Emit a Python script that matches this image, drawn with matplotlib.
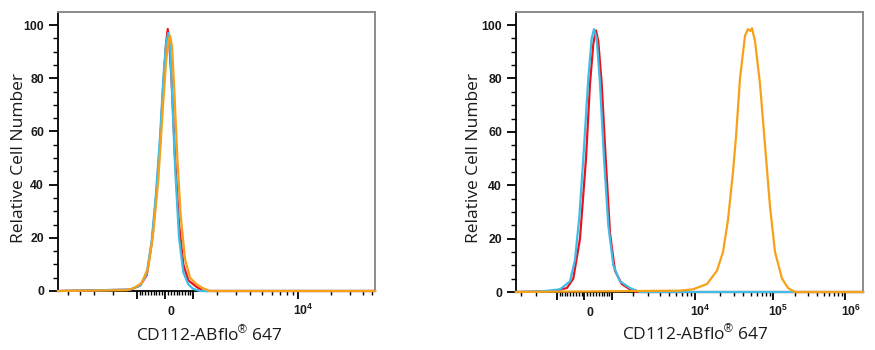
import numpy as np
import matplotlib
matplotlib.use("Agg")
import matplotlib.pyplot as plt
from matplotlib.ticker import FixedLocator, FixedFormatter
from matplotlib.transforms import ScaledTranslation

plt.rcParams["mathtext.fontset"] = "custom"
plt.rcParams["mathtext.rm"] = "Liberation Sans"
plt.rcParams["mathtext.bf"] = "Liberation Sans:bold"
plt.rcParams["mathtext.it"] = "Liberation Sans:italic"

RED = "#e8141b"
CYAN = "#3dbde8"
ORANGE = "#f7a11a"

# left panel (all three populations sit around zero)
LEFT_RED_X = [-6038, -1272, -888, -643, -464, -313, -174, -59, 35, 94, 149, 233,
              348, 489, 643, 825, 1142, 1404, 53300]
LEFT_RED_Y = [0, 0.5, 2, 6, 18, 35, 55, 78, 93, 98.5, 93, 78, 50, 25, 10, 4, 1.5, 0, 0]

LEFT_CYAN_X = [-6038, -1272, -888, -643, -464, -313, -174, -59, 35, 114, 174, 243,
               348, 489, 643, 825, 1001, 1272, 53300]
LEFT_CYAN_Y = [0, 0.5, 2, 6.5, 19, 37, 58, 80, 93, 97, 92, 75, 47, 20, 7, 2.5, 0.8, 0, 0]

LEFT_ORANGE_X = [-6038, -1404, -1142, -825, -585, -408, -233, -80, 35, 114, 174, 243,
                 324, 429, 550, 704, 888, 1142, 1404, 1690, 53300]
LEFT_ORANGE_Y = [0, 0.3, 1, 3, 9, 22, 42, 68, 86, 94, 96, 92, 75, 50, 28, 12, 5, 2.5,
                 1, 0, 0]

# right panel (orange population shifted to ~5x10^4)
RIGHT_CYAN_X = [-3370, -1607, -882, -508, -330, -180, -41, 131, 249, 330, 425, 544,
                691, 855, 1055, 1341, 1827, 2405, 1.76e6]
RIGHT_CYAN_Y = [0, 0.3, 1, 4, 12, 28, 50, 80, 95, 98.5, 95, 78, 50, 25, 10, 4, 1.5, 0, 0]

RIGHT_RED_X = [-3370, -1169, -617, -390, -155, 52, 190, 305, 400, 482, 606, 755,
               922, 1125, 1419, 1827, 2200, 1.76e6]
RIGHT_RED_Y = [0, 0.3, 1.5, 5, 20, 50, 78, 93, 98, 94, 78, 50, 22, 8, 3, 1, 0, 0]

RIGHT_ORANGE_X = [-3370, 6721, 9479, 13930, 18484, 21994, 25440, 29480, 32224, 36331,
                  42240, 46261, 49500, 52261, 57294, 66789, 78022, 91104, 106517,
                  132663, 160329, 199851, 1.76e6]
RIGHT_ORANGE_Y = [0, 0.5, 1, 3, 8, 15, 27, 45, 58, 80, 96, 98.5, 97.8, 98.8, 94, 78,
                  55, 32, 15, 5, 1.5, 0, 0]

Y_MAJOR = [0, 20, 40, 60, 80, 100]
Y_MINOR = [v for v in range(5, 100, 5) if v % 20]

NEAR_ZERO = [v for v in range(-900, 1000, 100) if v != 0]
LEFT_MAJOR = [-1000, 0, 1000, 1e4]
LEFT_LABELS = ["", "0", "", r"$\mathbf{10^{4}}$"]
LEFT_MINOR = [-5000, -4000, -3000, -2000] + NEAR_ZERO + \
    [k * 1000 for k in range(2, 10)] + [k * 1e4 for k in range(2, 6)]

RIGHT_MAJOR = [-1000, 0, 1000, 1e4, 1e5, 1e6]
RIGHT_LABELS = ["", "0", "", r"$\mathbf{10^{4}}$", r"$\mathbf{10^{5}}$",
                r"$\mathbf{10^{6}}$"]
RIGHT_MINOR = [-3000, -2000] + NEAR_ZERO + [k * 1000 for k in range(2, 10)] + \
    [k * 1e4 for k in range(2, 10)] + [k * 1e5 for k in range(2, 10)]


def biex_functions(w, c):
    # biexponential-like display: x = w*sinh(s) + c*s
    s_grid = np.linspace(-14, 14, 28001)
    x_grid = w * np.sinh(s_grid) + c * s_grid

    def forward(x):
        return np.interp(x, x_grid, s_grid)

    def inverse(s):
        s = np.clip(s, -14, 14)
        return w * np.sinh(s) + c * s

    return forward, inverse


def style_axes(fig, ax, scale, xlim, major, labels, minor, xlab_pos, ylab_pos):
    ax.set_xscale("function", functions=scale)
    ax.set_xlim(*xlim)
    ax.set_ylim(0, 104.9)

    ax.xaxis.set_major_locator(FixedLocator(major))
    ax.xaxis.set_major_formatter(FixedFormatter(labels))
    ax.xaxis.set_minor_locator(FixedLocator(minor))
    ax.yaxis.set_major_locator(FixedLocator(Y_MAJOR))
    ax.yaxis.set_minor_locator(FixedLocator(Y_MINOR))

    ax.tick_params(axis="x", which="major", direction="out", length=5.5, width=1.3,
                   pad=11.5, labelsize=8.8, labelcolor="#1a1a1a")
    ax.tick_params(axis="x", which="minor", direction="out", length=3, width=1.0)
    ax.tick_params(axis="y", which="major", direction="out", length=6.5, width=1.3,
                   pad=3.5, labelsize=8.8, labelcolor="#1a1a1a")
    ax.tick_params(axis="y", which="minor", direction="out", length=3.5, width=1.0)

    for lbl in ax.get_yticklabels() + ax.get_xticklabels():
        lbl.set_fontweight("bold")
        lbl.set_family("Liberation Sans")
    shift = ScaledTranslation(0.055, 0, fig.dpi_scale_trans)
    for lbl in ax.get_xticklabels():
        lbl.set_verticalalignment("baseline")
        lbl.set_transform(lbl.get_transform() + shift)

    for side in ("left", "bottom"):
        ax.spines[side].set_color("black")
        ax.spines[side].set_linewidth(1.3)
    for side in ("top", "right"):
        ax.spines[side].set_color("#8c8c8c")
        ax.spines[side].set_linewidth(1.4)

    ax.set_xlabel(r"CD112-ABflo$^{\circledR}$ 647", fontsize=12.5,
                  family="Open Sans", color="#1a1a1a")
    ax.xaxis.label.set_verticalalignment("baseline")
    ax.xaxis.set_label_coords(*xlab_pos)
    ax.set_ylabel("Relative Cell Number", fontsize=12.5, family="Open Sans",
                  color="#1a1a1a")
    ax.yaxis.label.set_verticalalignment("baseline")
    ax.yaxis.set_label_coords(*ylab_pos)


def draw(ax, xs, ys, color):
    ax.plot(xs, ys, color=color, lw=1.6, zorder=3, clip_on=False,
            solid_joinstyle="round")


def main():
    fig = plt.figure(figsize=(8.75, 3.5), dpi=100)
    ax_l = fig.add_axes([0.0663, 0.1686, 0.3623, 0.7971])
    ax_r = fig.add_axes([0.5897, 0.1657, 0.3966, 0.8])

    style_axes(fig, ax_l, biex_functions(511, 876), (-6038, 53300),
               LEFT_MAJOR, LEFT_LABELS, LEFT_MINOR, (0.478, -0.1756), (-0.110, 0.475))
    style_axes(fig, ax_r, biex_functions(440, 629), (-3370, 1.76e6),
               RIGHT_MAJOR, RIGHT_LABELS, RIGHT_MINOR, (0.516, -0.171), (-0.1095, 0.480))

    draw(ax_l, LEFT_RED_X, LEFT_RED_Y, RED)
    draw(ax_l, LEFT_CYAN_X, LEFT_CYAN_Y, CYAN)
    draw(ax_l, LEFT_ORANGE_X, LEFT_ORANGE_Y, ORANGE)

    draw(ax_r, RIGHT_RED_X, RIGHT_RED_Y, RED)
    draw(ax_r, RIGHT_CYAN_X, RIGHT_CYAN_Y, CYAN)
    draw(ax_r, RIGHT_ORANGE_X, RIGHT_ORANGE_Y, ORANGE)

    fig.savefig("out.png", dpi=100, facecolor="white")
    plt.close(fig)


if __name__ == "__main__":
    main()
